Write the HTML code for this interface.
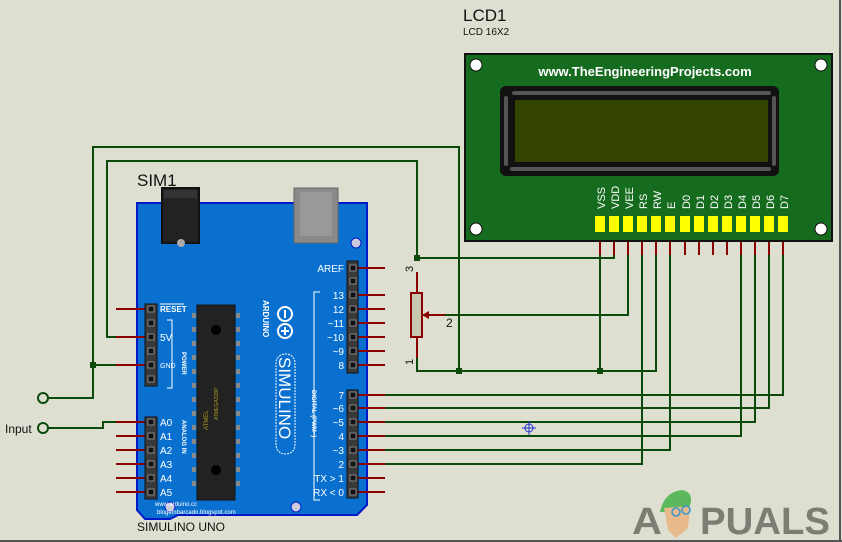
<!DOCTYPE html>
<html><head><meta charset="utf-8"><style>
html,body{margin:0;padding:0;background:#dfdfd1;}
svg{display:block;font-family:"Liberation Sans",sans-serif;}
</style></head><body>
<svg width="842" height="542" viewBox="0 0 842 542" xmlns="http://www.w3.org/2000/svg">
<rect width="842" height="542" fill="#dfdfd1"/>
<line x1="840" y1="0" x2="840" y2="542" stroke="#555" stroke-width="2"/>
<line x1="0" y1="541" x2="842" y2="541" stroke="#555" stroke-width="2"/>

<!-- watermark -->
<g fill="#7d7d73" font-weight="bold" font-size="38">
<text x="632" y="534" textLength="30" lengthAdjust="spacingAndGlyphs">A</text>
<text x="700" y="534" textLength="130" lengthAdjust="spacingAndGlyphs">PUALS</text>
</g>
<path d="M660,512 Q664,492 682,490 Q694,492 690,506 L670,512 Z" fill="#5cb85c"/>
<path d="M664,508 L690,506 L688,528 L676,538 L668,530 Z" fill="#e8b98a"/>
<circle cx="676" cy="512" r="4" fill="none" stroke="#3399cc" stroke-width="1.5"/>
<circle cx="686" cy="510" r="4" fill="none" stroke="#3399cc" stroke-width="1.5"/>

<!-- green wires -->
<g stroke="#0b4a0b" stroke-width="2" fill="none">
<polyline points="43,398 93,398 93,147 459,147 459,371"/>
<polyline points="116,337 107,337 107,161 417,161 417,258"/>
<line x1="93" y1="365" x2="116" y2="365"/>
<polyline points="48,428 103,428 103,422 116,422"/>
<polyline points="417,358 417,371 656,371 656,255"/>
<line x1="600" y1="255" x2="600" y2="371"/>
<polyline points="417,258 614,258 614,255"/>
<polyline points="422,315 628,315 628,255"/>
<polyline points="385,464 642,464 642,255"/>
<polyline points="385,450 670,450 670,255"/>
<polyline points="385,436 741,436 741,255"/>
<polyline points="385,422 755,422 755,255"/>
<polyline points="385,408 769,408 769,255"/>
<polyline points="385,395 783,395 783,255"/>
</g>
<g fill="#0b4a0b">
<rect x="90" y="362" width="6" height="6"/>
<rect x="414" y="255" width="6" height="6"/>
<rect x="456" y="368" width="6" height="6"/>
<rect x="597" y="368" width="6" height="6"/>
</g>
<circle cx="43" cy="398" r="5" fill="#dfdfd1" stroke="#0b4a0b" stroke-width="2"/>
<circle cx="43" cy="428" r="5" fill="#dfdfd1" stroke="#0b4a0b" stroke-width="2"/>
<text x="5" y="433" font-size="12" fill="#111">Input</text>

<!-- LCD red stubs -->
<g stroke="#8b0000" stroke-width="2">
<line x1="600" y1="224" x2="600" y2="255"/><line x1="614" y1="224" x2="614" y2="255"/>
<line x1="628" y1="224" x2="628" y2="255"/><line x1="642" y1="224" x2="642" y2="255"/>
<line x1="656" y1="224" x2="656" y2="255"/><line x1="670" y1="224" x2="670" y2="255"/>
<line x1="685" y1="224" x2="685" y2="255"/><line x1="699" y1="224" x2="699" y2="255"/>
<line x1="713" y1="224" x2="713" y2="255"/><line x1="727" y1="224" x2="727" y2="255"/>
<line x1="741" y1="224" x2="741" y2="255"/><line x1="755" y1="224" x2="755" y2="255"/>
<line x1="769" y1="224" x2="769" y2="255"/><line x1="783" y1="224" x2="783" y2="255"/>
</g>

<!-- potentiometer -->
<g stroke="#8b0000" stroke-width="2" fill="none">
<line x1="417" y1="272" x2="417" y2="293"/>
<line x1="417" y1="337" x2="417" y2="358"/>
<line x1="426" y1="315" x2="445" y2="315"/>
</g>
<rect x="411" y="293" width="11" height="44" fill="#c8c8b0" stroke="#8b0000" stroke-width="2"/>
<polygon points="422,315 429,311 429,319" fill="#8b0000"/>
<text x="446" y="327" font-size="12" fill="#111">2</text>
<text x="413" y="272" font-size="11" fill="#111" transform="rotate(-90 413 272)">3</text>
<text x="413" y="365" font-size="11" fill="#111" transform="rotate(-90 413 365)">1</text>

<!-- crosshair -->
<g stroke="#2233cc" stroke-width="1" fill="none">
<circle cx="529" cy="428" r="4"/><line x1="522" y1="428" x2="536" y2="428"/><line x1="529" y1="421" x2="529" y2="435"/>
</g>

<!-- LCD -->
<text x="463" y="21" font-size="17" fill="#111">LCD1</text>
<text x="463" y="35" font-size="10" fill="#111">LCD 16X2</text>
<rect x="465" y="54" width="367" height="187" fill="#156b1e" stroke="#111" stroke-width="2"/>
<circle cx="476" cy="65" r="6" fill="#fff" stroke="#111"/>
<circle cx="821" cy="65" r="6" fill="#fff" stroke="#111"/>
<circle cx="476" cy="229" r="6" fill="#fff" stroke="#111"/>
<circle cx="821" cy="229" r="6" fill="#fff" stroke="#111"/>
<text x="645" y="76" font-size="13" font-weight="bold" fill="#fff" text-anchor="middle">www.TheEngineeringProjects.com</text>
<rect x="500" y="86" width="279" height="90" rx="6" fill="#111"/>
<rect x="512" y="91" width="259" height="4" rx="2" fill="#555"/>
<rect x="510" y="167" width="261" height="4" rx="2" fill="#555"/>
<rect x="504" y="96" width="4" height="70" rx="2" fill="#555"/>
<rect x="772" y="96" width="4" height="70" rx="2" fill="#555"/>
<rect x="515" y="100" width="253" height="62" fill="#334400"/>
<g fill="#ffff00">
<rect x="595" y="216" width="10" height="16"/><rect x="609" y="216" width="10" height="16"/>
<rect x="623" y="216" width="10" height="16"/><rect x="637" y="216" width="10" height="16"/>
<rect x="651" y="216" width="10" height="16"/><rect x="665" y="216" width="10" height="16"/>
<rect x="680" y="216" width="10" height="16"/><rect x="694" y="216" width="10" height="16"/>
<rect x="708" y="216" width="10" height="16"/><rect x="722" y="216" width="10" height="16"/>
<rect x="736" y="216" width="10" height="16"/><rect x="750" y="216" width="10" height="16"/>
<rect x="764" y="216" width="10" height="16"/><rect x="778" y="216" width="10" height="16"/>
</g>
<g font-size="11" fill="#fff">
<text transform="translate(605,209) rotate(-90)">VSS</text>
<text transform="translate(619,209) rotate(-90)">VDD</text>
<text transform="translate(633,209) rotate(-90)">VEE</text>
<text transform="translate(647,209) rotate(-90)">RS</text>
<text transform="translate(661,209) rotate(-90)">RW</text>
<text transform="translate(675,209) rotate(-90)">E</text>
<text transform="translate(690,209) rotate(-90)">D0</text>
<text transform="translate(704,209) rotate(-90)">D1</text>
<text transform="translate(718,209) rotate(-90)">D2</text>
<text transform="translate(732,209) rotate(-90)">D3</text>
<text transform="translate(746,209) rotate(-90)">D4</text>
<text transform="translate(760,209) rotate(-90)">D5</text>
<text transform="translate(774,209) rotate(-90)">D6</text>
<text transform="translate(788,209) rotate(-90)">D7</text>
</g>

<!-- Arduino -->
<text x="137" y="186" font-size="17" fill="#111">SIM1</text>
<text x="137" y="531" font-size="12" fill="#111">SIMULINO UNO</text>
<polygon points="137,203 367,203 367,505 357,515 178,515 170,519 145,519 137,510" fill="#0a70cf" stroke="#0019c8" stroke-width="2"/>
<rect x="294" y="188" width="44" height="55" fill="#8a8a8a" stroke="#666"/>
<rect x="300" y="192" width="32" height="44" fill="#999"/>
<rect x="162" y="188" width="37" height="55" fill="#222" stroke="#111" stroke-width="2"/>
<rect x="164" y="190" width="33" height="8" fill="#333"/>
<circle cx="181" cy="243" r="4" fill="#aaa"/>
<circle cx="356" cy="243" r="5" fill="#ccd" stroke="#0019c8"/>
<circle cx="170" cy="507" r="5" fill="#ccd" stroke="#0019c8"/>
<circle cx="296" cy="507" r="5" fill="#ccd" stroke="#0019c8"/>

<!-- red pin stubs -->
<g stroke="#8b0000" stroke-width="2">
<line x1="116" y1="309" x2="146" y2="309"/><line x1="116" y1="337" x2="146" y2="337"/><line x1="116" y1="365" x2="146" y2="365"/>
<line x1="116" y1="422" x2="146" y2="422"/><line x1="116" y1="436" x2="146" y2="436"/><line x1="116" y1="450" x2="146" y2="450"/>
<line x1="116" y1="464" x2="146" y2="464"/><line x1="116" y1="478" x2="146" y2="478"/><line x1="116" y1="492" x2="146" y2="492"/>
<line x1="356" y1="268" x2="385" y2="268"/><line x1="356" y1="295" x2="385" y2="295"/><line x1="356" y1="309" x2="385" y2="309"/>
<line x1="356" y1="323" x2="385" y2="323"/><line x1="356" y1="337" x2="385" y2="337"/><line x1="356" y1="351" x2="385" y2="351"/>
<line x1="356" y1="365" x2="385" y2="365"/>
<line x1="356" y1="395" x2="385" y2="395"/><line x1="356" y1="408" x2="385" y2="408"/><line x1="356" y1="422" x2="385" y2="422"/>
<line x1="356" y1="436" x2="385" y2="436"/><line x1="356" y1="450" x2="385" y2="450"/><line x1="356" y1="464" x2="385" y2="464"/>
<line x1="356" y1="478" x2="385" y2="478"/><line x1="356" y1="492" x2="385" y2="492"/>
</g>

<!-- headers -->
<g fill="#3a3a3a" stroke="#111">
<rect x="145" y="304" width="12" height="82"/>
<rect x="145" y="417" width="12" height="82"/>
<rect x="347" y="261" width="11" height="112"/>
<rect x="347" y="390" width="11" height="108"/>
</g>
<g fill="#111" stroke="#888" stroke-width="1">
<rect x="148" y="306" width="6" height="6"/><rect x="148" y="320" width="6" height="6"/><rect x="148" y="334" width="6" height="6"/>
<rect x="148" y="348" width="6" height="6"/><rect x="148" y="362" width="6" height="6"/><rect x="148" y="376" width="6" height="6"/>
<rect x="148" y="419" width="6" height="6"/><rect x="148" y="433" width="6" height="6"/><rect x="148" y="447" width="6" height="6"/>
<rect x="148" y="461" width="6" height="6"/><rect x="148" y="475" width="6" height="6"/><rect x="148" y="489" width="6" height="6"/>
<rect x="350" y="265" width="6" height="6"/><rect x="350" y="278" width="6" height="6"/><rect x="350" y="292" width="6" height="6"/>
<rect x="350" y="306" width="6" height="6"/><rect x="350" y="320" width="6" height="6"/><rect x="350" y="334" width="6" height="6"/>
<rect x="350" y="348" width="6" height="6"/><rect x="350" y="362" width="6" height="6"/>
<rect x="350" y="392" width="6" height="6"/><rect x="350" y="405" width="6" height="6"/><rect x="350" y="419" width="6" height="6"/>
<rect x="350" y="433" width="6" height="6"/><rect x="350" y="447" width="6" height="6"/><rect x="350" y="461" width="6" height="6"/>
<rect x="350" y="475" width="6" height="6"/><rect x="350" y="489" width="6" height="6"/>
</g>

<g fill="#fff" font-size="10">
<text x="160" y="312" font-size="8" font-weight="bold">RESET</text>
<line x1="160" y1="304" x2="184" y2="304" stroke="#fff"/>
<text x="160" y="341">5V</text>
<text x="160" y="368" font-size="7">GND</text>
<text x="160" y="426">A0</text><text x="160" y="440">A1</text><text x="160" y="454">A2</text>
<text x="160" y="468">A3</text><text x="160" y="482">A4</text><text x="160" y="496">A5</text>
<g text-anchor="end">
<text x="344" y="272">AREF</text>
<text x="344" y="299">13</text><text x="344" y="313">12</text><text x="344" y="327">~11</text>
<text x="344" y="341">~10</text><text x="344" y="355">~9</text><text x="344" y="369">8</text>
<text x="344" y="399">7</text><text x="344" y="412">~6</text><text x="344" y="426">~5</text>
<text x="344" y="440">4</text><text x="344" y="454">~3</text><text x="344" y="468">2</text>
<text x="344" y="482">TX &gt; 1</text><text x="344" y="496">RX &lt; 0</text>
</g>
<text transform="translate(182,352) rotate(90)" font-size="6" font-weight="bold">POWER</text>
<text transform="translate(182,420) rotate(90)" font-size="6" font-weight="bold">ANALOG IN</text>
<text transform="translate(312,390) rotate(90)" font-size="6" font-weight="bold">DIGITAL (PWM~)</text>
<text transform="translate(263,300) rotate(90)" font-size="8" font-weight="bold">ARDUINO</text>
<text x="155" y="506" font-size="6">www.arduino.cc</text>
<text x="157" y="514" font-size="6">blogembarcado.blogspot.com</text>
</g>
<g stroke="#fff" fill="none" stroke-width="1">
<polyline points="167,320 172,320 172,388 167,388"/>
<polyline points="320,292 314,292 314,500 320,500"/>
<rect x="276" y="354" width="19" height="100" rx="9" stroke-dasharray="2,1"/>
<circle cx="285" cy="314" r="7" stroke-width="2"/>
<circle cx="285" cy="331" r="7" stroke-width="2"/>
<line x1="285" y1="310" x2="285" y2="318" stroke-width="2"/>
<line x1="285" y1="327" x2="285" y2="335" stroke-width="2"/>
<line x1="281" y1="331" x2="289" y2="331" stroke-width="2"/>
</g>
<text transform="translate(279,357) rotate(90)" font-size="17" fill="#fff">SIMULINO</text>

<!-- chip -->
<rect x="197" y="305" width="38" height="195" fill="#222" stroke="#111"/>
<g fill="#888">
<rect x="192" y="313" width="4" height="5"/><rect x="192" y="327" width="4" height="5"/><rect x="192" y="341" width="4" height="5"/><rect x="192" y="355" width="4" height="5"/><rect x="192" y="369" width="4" height="5"/><rect x="192" y="383" width="4" height="5"/><rect x="192" y="397" width="4" height="5"/><rect x="192" y="411" width="4" height="5"/><rect x="192" y="425" width="4" height="5"/><rect x="192" y="439" width="4" height="5"/><rect x="192" y="453" width="4" height="5"/><rect x="192" y="467" width="4" height="5"/><rect x="192" y="481" width="4" height="5"/>
<rect x="236" y="313" width="4" height="5"/><rect x="236" y="327" width="4" height="5"/><rect x="236" y="341" width="4" height="5"/><rect x="236" y="355" width="4" height="5"/><rect x="236" y="369" width="4" height="5"/><rect x="236" y="383" width="4" height="5"/><rect x="236" y="397" width="4" height="5"/><rect x="236" y="411" width="4" height="5"/><rect x="236" y="425" width="4" height="5"/><rect x="236" y="439" width="4" height="5"/><rect x="236" y="453" width="4" height="5"/><rect x="236" y="467" width="4" height="5"/><rect x="236" y="481" width="4" height="5"/>
</g>
<circle cx="216" cy="330" r="5" fill="#000"/>
<circle cx="216" cy="470" r="5" fill="#000"/>
<text transform="translate(208,430) rotate(-90)" font-size="6" fill="#aa9a20">ATMEL</text>
<text transform="translate(218,420) rotate(-90)" font-size="5" fill="#aa9a20">ATMEGA328P</text>
</svg>
</body></html>
